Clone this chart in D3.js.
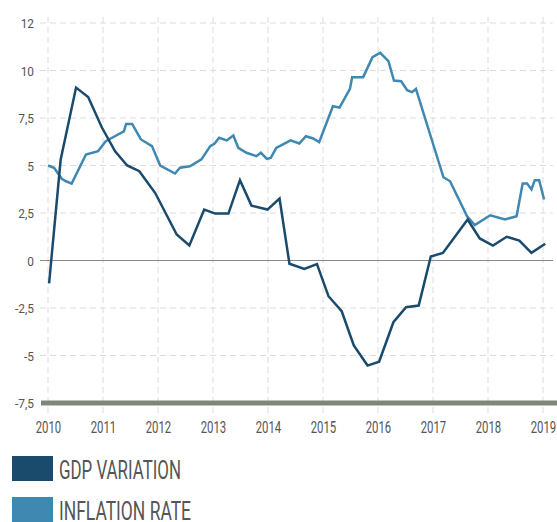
<!DOCTYPE html>
<html>
<head>
<meta charset="utf-8">
<script src="https://cdn.jsdelivr.net/npm/d3@7"></script>
<style>
  body { margin: 0; background: #fff; }
  text { font-family: "Roboto", "Liberation Sans", sans-serif; fill: #555; }
</style>
</head>
<body>
<div id="chart"></div>
<script>
// year ticks on the x axis
const years = [2010, 2011, 2012, 2013, 2014, 2015, 2016, 2017, 2018, 2019];
// y ticks and their labels (top tick is shown as "12")
const yTicks = [-7.5, -5, -2.5, 0, 2.5, 5, 7.5, 10, 12.5];
const yLabels = ["-7,5", "-5", "-2,5", "0", "2,5", "5", "7,5", "10", "12"];

// GDP variation (decimal year, %)
const gdpDates = [2010.02, 2010.23, 2010.51, 2010.73, 2010.98, 2011.22, 2011.44, 2011.66, 2011.95,
  2012.34, 2012.57, 2012.84, 2013.04, 2013.28, 2013.49, 2013.70, 2013.99, 2014.21, 2014.39,
  2014.66, 2014.89, 2015.10, 2015.34, 2015.56, 2015.81, 2016.02, 2016.28, 2016.51, 2016.74,
  2016.96, 2017.18, 2017.63, 2017.85, 2018.09, 2018.34, 2018.57, 2018.79, 2019.04];
const gdpValues = [-1.2, 5.3, 9.1, 8.6, 7.0, 5.75, 5.0, 4.7, 3.55,
  1.37, 0.79, 2.68, 2.47, 2.47, 4.23, 2.89, 2.68, 3.26, -0.17,
  -0.44, -0.19, -1.88, -2.67, -4.47, -5.53, -5.33, -3.25, -2.46, -2.37,
  0.21, 0.4, 2.16, 1.16, 0.79, 1.25, 1.05, 0.4, 0.88];

// inflation rate
const infDates = [2010.0, 2010.11, 2010.25, 2010.33, 2010.43, 2010.69, 2010.91, 2011.05, 2011.19,
  2011.38, 2011.42, 2011.53, 2011.69, 2011.89, 2012.04, 2012.31, 2012.40, 2012.58, 2012.79,
  2012.95, 2013.03, 2013.11, 2013.25, 2013.37, 2013.46, 2013.61, 2013.79, 2013.87, 2013.98,
  2014.05, 2014.15, 2014.41, 2014.57, 2014.69, 2014.82, 2014.93, 2015.18, 2015.30, 2015.49,
  2015.53, 2015.73, 2015.90, 2016.04, 2016.19, 2016.29, 2016.42, 2016.53, 2016.62, 2016.69,
  2017.19, 2017.31, 2017.62, 2017.76, 2018.04, 2018.31, 2018.52, 2018.63, 2018.71, 2018.79,
  2018.85, 2018.93, 2019.02];
const infValues = [5.0, 4.88, 4.3, 4.17, 4.05, 5.58, 5.75, 6.28, 6.5,
  6.8, 7.19, 7.19, 6.37, 6.02, 5.0, 4.58, 4.88, 4.96, 5.32,
  6.02, 6.16, 6.46, 6.32, 6.58, 5.93, 5.67, 5.49, 5.67, 5.35,
  5.4, 5.93, 6.32, 6.16, 6.54, 6.42, 6.23, 8.12, 8.05, 9.03,
  9.65, 9.65, 10.7, 10.93, 10.49, 9.47, 9.44, 8.96, 8.86, 9.03,
  4.38, 4.17, 2.33, 1.86, 2.38, 2.16, 2.33, 4.05, 4.05, 3.74,
  4.23, 4.23, 3.21];

const seriesNames = ["GDP VARIATION", "INFLATION RATE"];
const seriesColors = ["#1a4a6c", "#3e88b1"];

const W = 557, H = 522;
const svg = d3.select("#chart").append("svg").attr("width", W).attr("height", H);

const x = d3.scaleLinear().domain([2010, 2019]).range([48, 543]);
const y = d3.scaleLinear().domain([-7.5, 12.5]).range([403, 23]);

// squeeze text to mimic the condensed face of the original
function condense(sel, factor) {
  sel.each(function () {
    const len = this.getComputedTextLength();
    d3.select(this).attr("textLength", len * factor).attr("lengthAdjust", "spacingAndGlyphs");
  });
}

// grid
const grid = svg.append("g").attr("stroke", "#dcdcdc").attr("stroke-dasharray", "6,4").attr("stroke-width", 1);
grid.selectAll("line.h").data(yTicks.filter(d => d !== 0 && d !== -7.5)).join("line")
  .attr("x1", 40).attr("x2", 553)
  .attr("y1", d => y(d)).attr("y2", d => y(d));
grid.selectAll("line.v").data(years).join("line")
  .attr("x1", d => x(d)).attr("x2", d => x(d))
  .attr("y1", 17).attr("y2", 417);

// zero line
svg.append("line").attr("x1", 40).attr("x2", 553).attr("y1", y(0)).attr("y2", y(0))
  .attr("stroke", "#888").attr("stroke-width", 1.2);

// bottom bar
svg.append("line").attr("x1", 41).attr("x2", 557).attr("y1", y(-7.5)).attr("y2", y(-7.5))
  .attr("stroke", "#7f867b").attr("stroke-width", 5);

// y axis labels
const yAxis = d3.axisLeft(y).tickValues(yTicks).tickSize(0)
  .tickFormat((d, i) => yLabels[i]);
svg.append("g").attr("transform", "translate(40,0)").call(yAxis)
  .call(g => g.select(".domain").remove())
  .selectAll("text").attr("x", -6).attr("dy", "0.35em")
  .style("font-size", "13.5px").style("font-family", "Roboto").style("fill", "#555")
  .call(condense, 0.88);

// x axis labels
const xAxis = d3.axisBottom(x).tickValues(years).tickSize(0).tickFormat(d3.format("d"));
svg.append("g").attr("transform", "translate(0,418)").call(xAxis)
  .call(g => g.select(".domain").remove())
  .selectAll("text").attr("y", 3).attr("dy", "0.71em")
  .style("font-size", "17px").style("font-family", "Roboto").style("fill", "#555")
  .attr("textLength", 25.5).attr("lengthAdjust", "spacingAndGlyphs");

// lines
const line = d3.line().x(d => x(d[0])).y(d => y(d[1]));
const gdp = gdpDates.map((d, i) => [d, gdpValues[i]]);
const inf = infDates.map((d, i) => [d, infValues[i]]);

svg.append("path").datum(inf).attr("d", line)
  .attr("fill", "none").attr("stroke", seriesColors[1]).attr("stroke-width", 2.5)
  .attr("stroke-linejoin", "miter");
svg.append("path").datum(gdp).attr("d", line)
  .attr("fill", "none").attr("stroke", seriesColors[0]).attr("stroke-width", 2.5)
  .attr("stroke-linejoin", "miter");

// legend
const legendWidths = [122, 132];
const legend = svg.append("g");
const items = legend.selectAll("g").data(seriesNames).join("g")
  .attr("transform", (d, i) => "translate(12," + (456 + i * 41) + ")");
items.append("rect").attr("width", 41).attr("height", 25)
  .attr("fill", (d, i) => seriesColors[i]);
items.append("text").attr("x", 47).attr("y", 23).text(d => d)
  .style("font-size", "25px").style("fill", "#555")
  .attr("textLength", (d, i) => legendWidths[i]).attr("lengthAdjust", "spacingAndGlyphs");
</script>
</body>
</html>
